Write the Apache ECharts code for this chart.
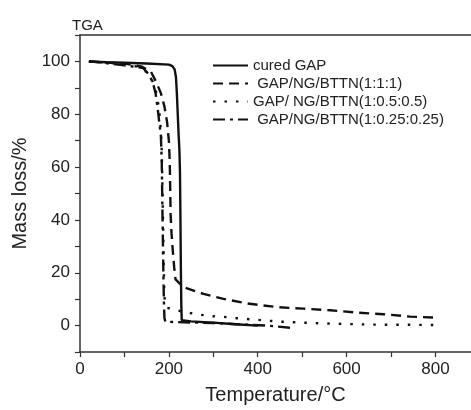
<!DOCTYPE html>
<html><head><meta charset="utf-8">
<script src="https://cdn.jsdelivr.net/npm/echarts@6/dist/echarts.min.js"></script>
<style>html,body{margin:0;padding:0;background:#fff}#c{width:471px;height:410px}</style>
</head><body><div id="c"></div>
<script>
const seriesNames = ["cured GAP", " GAP/NG/BTTN(1:1:1)", "GAP/ NG/BTTN(1:0.5:0.5)", " GAP/NG/BTTN(1:0.25:0.25)"];
const xTicks = [0, 200, 400, 600, 800];
const yTicks = [0, 20, 40, 60, 80, 100];

const curedT = [20, 60, 100, 150, 200, 208, 213, 216, 218, 220, 222, 223, 224, 225, 226, 227, 228, 229, 232, 250, 300, 350, 400];
const curedM = [100, 99.7, 99.5, 99.2, 98.8, 98.2, 97, 94, 88, 80, 72, 69, 65, 58, 42, 22, 8, 2, 1.7, 1.6, 1.1, 0.5, 0];

const r111T = [20, 60, 100, 140, 160, 172, 182, 190, 196, 200, 202, 203, 204, 206, 209, 212, 215, 233, 278, 323, 375, 443, 503, 563, 623, 683, 743, 800];
const r111M = [100, 99.6, 99.2, 98, 96, 92, 88, 83, 77, 70, 62, 52, 42, 35, 28, 22, 17.5, 14.5, 12, 10.1, 8.4, 7.0, 6.4, 5.8, 4.9, 4.3, 3.4, 3.0];

const r05T = [20, 60, 100, 130, 150, 162, 172, 178, 182, 184, 185, 186, 187, 188, 189, 190, 192, 195, 210, 236, 263, 293, 323, 353, 383, 428, 450, 503, 563, 623, 683, 743, 800];
const r05M = [100, 99.6, 99, 98, 96, 93, 88, 82, 74, 66, 58, 48, 38, 28, 18, 11, 8, 6.8, 6.1, 5.1, 4.3, 3.6, 3.3, 2.8, 2.4, 1.8, 1.5, 1.1, 0.75, 0.5, 0.3, 0.3, 0.2];

const r025T = [20, 50, 100, 142, 155, 164, 170, 175, 179, 182, 184, 185, 186, 187, 188, 189, 190, 192, 220, 300, 380, 420, 473];
const r025M = [100, 99.5, 98.5, 97.5, 95, 92, 88, 82, 76, 72, 62, 50, 38, 27, 16, 8, 3, 1.5, 1.3, 1.0, 0.3, 0, -0.8];

function pairs(t, m) { return t.map((v, i) => [v, m[i]]); }

const chart = echarts.init(document.getElementById('c'), null, {renderer: 'canvas'});
const F = '"Liberation Sans", Arial, sans-serif';
const lineColor = '#111';
function ser(name, t, m, type) {
  return {
    name: name, type: 'line', data: pairs(t, m), symbol: 'none', smooth: false,
    lineStyle: {color: lineColor, width: 2.4, type: type},
    itemStyle: {color: lineColor}, animation: false
  };
}
const axisLineStyle = {color: '#333', width: 1.5};
chart.setOption({
  animation: false,
  title: {text: 'TGA', left: 67, top: 13, textStyle: {fontFamily: F, fontSize: 15, fontWeight: 'normal', color: '#222'}},
  grid: {left: 80, top: 35, right: 0, bottom: 57, show: false, containLabel: false},
  legend: {
    orient: 'vertical', left: 207, top: 53, itemWidth: 35, itemHeight: 14, itemGap: 3,
    itemStyle: {opacity: 0},
    textStyle: {fontFamily: F, fontSize: 15, color: '#222'},
    data: seriesNames
  },
  xAxis: [{
    type: 'value', min: 0, max: 880, interval: 100,
    name: 'Temperature/°C', nameLocation: 'middle', nameGap: 33,
    nameTextStyle: {fontFamily: F, fontSize: 20, color: '#222'},
    axisLine: {onZero: false, lineStyle: axisLineStyle},
    axisTick: {show: true, length: 5, lineStyle: {color: '#333', width: 1.2}},
    axisLabel: {margin: 9, fontFamily: F, fontSize: 17, color: '#222', showMaxLabel: false,
      formatter: v => xTicks.indexOf(v) >= 0 ? String(v) : ''},
    splitLine: {show: false}
  }, {
    type: 'value', position: 'top', min: 0, max: 880,
    axisLine: {show: true, onZero: false, lineStyle: axisLineStyle},
    axisTick: {show: false}, axisLabel: {show: false}, splitLine: {show: false}
  }],
  yAxis: {
    type: 'value', min: -10, max: 110, interval: 10,
    name: 'Mass loss/%', nameLocation: 'middle', nameGap: 44,
    nameTextStyle: {fontFamily: F, fontSize: 20, color: '#222'},
    axisLine: {show: true, onZero: false, lineStyle: axisLineStyle},
    axisTick: {show: true, length: 5, lineStyle: {color: '#333', width: 1.2}},
    axisLabel: {margin: 10, fontFamily: F, fontSize: 17, color: '#222',
      formatter: v => yTicks.indexOf(v) >= 0 ? String(v) : ''},
    splitLine: {show: false}
  },
  series: [
    ser(seriesNames[0], curedT, curedM, 'solid'),
    ser(seriesNames[1], r111T, r111M, [10, 6]),
    ser(seriesNames[2], r05T, r05M, [2.5, 9]),
    ser(seriesNames[3], r025T, r025M, [12, 5, 3, 5])
  ]
});
</script></body></html>
